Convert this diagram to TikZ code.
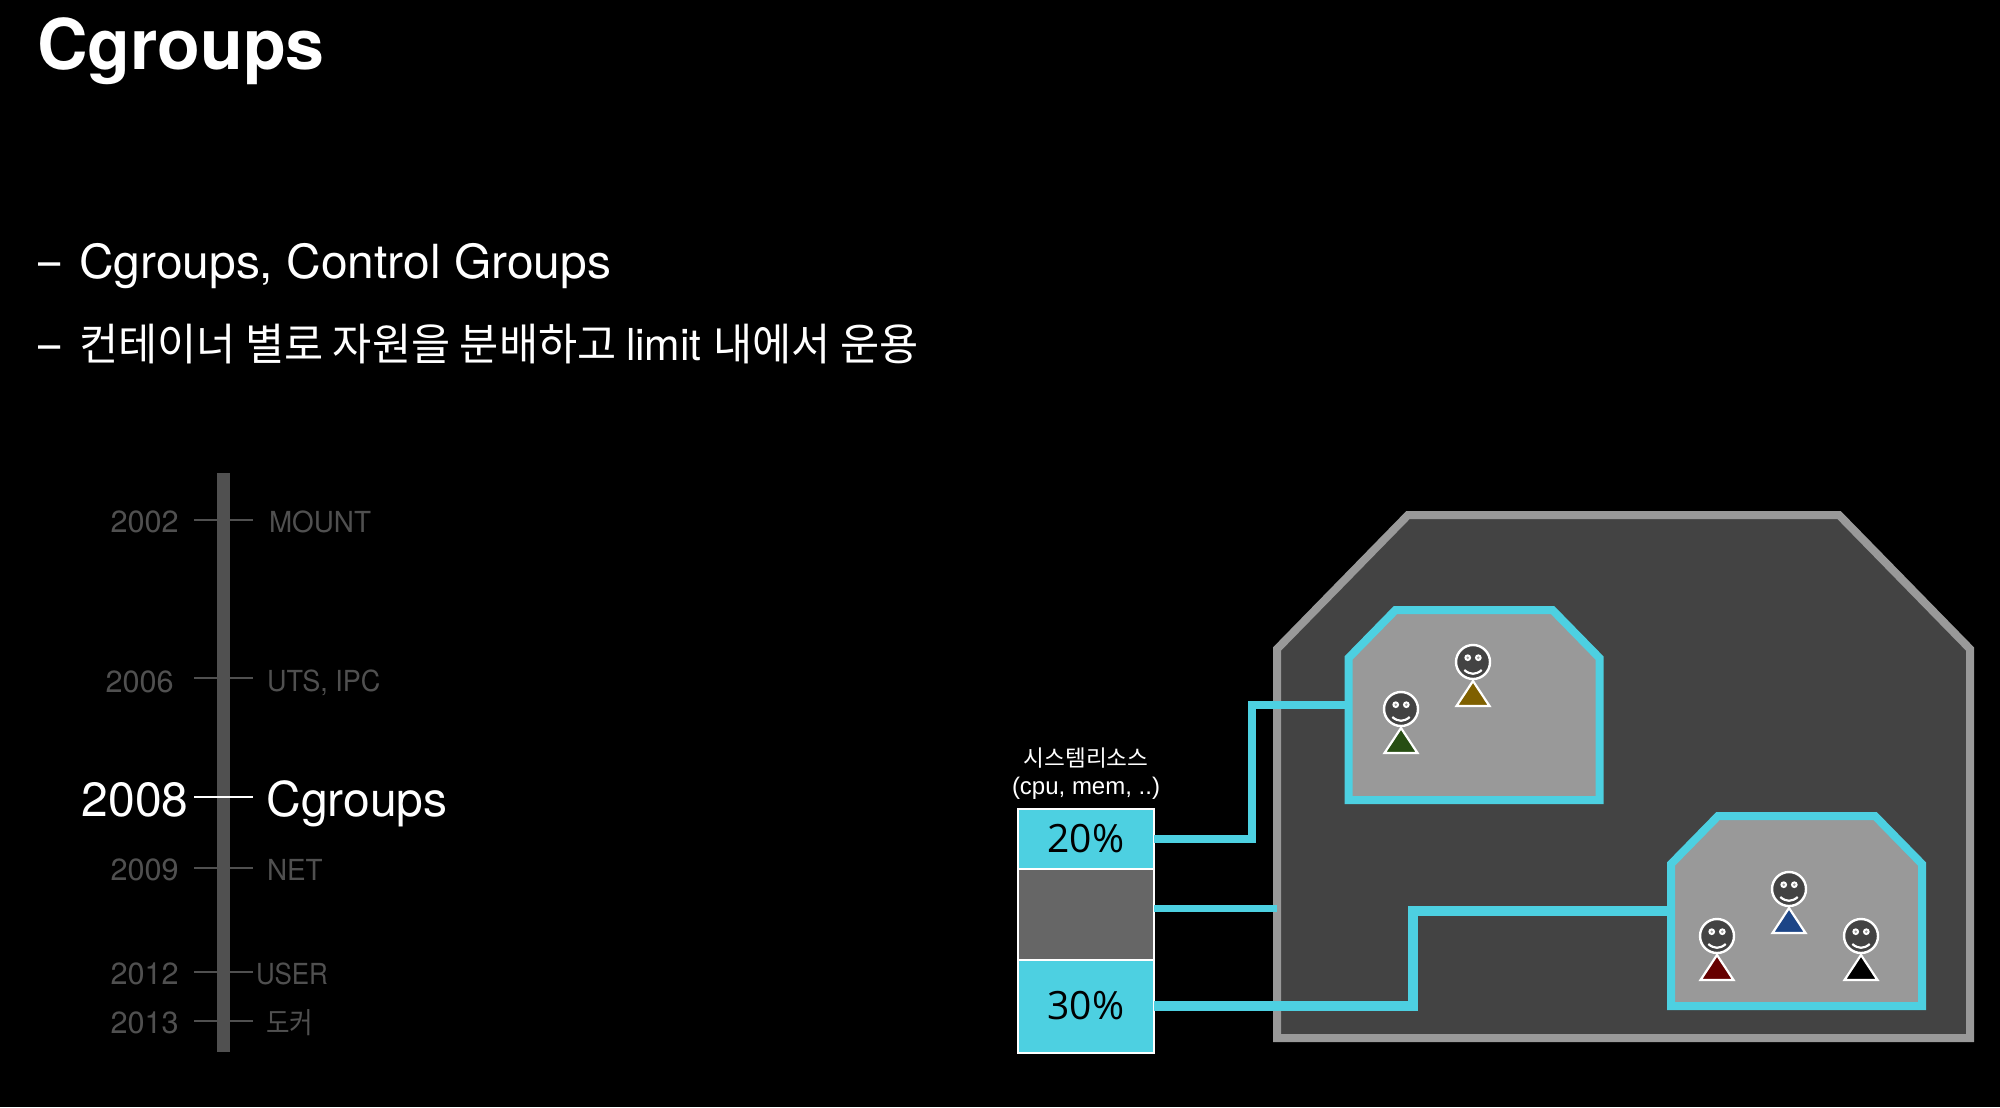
\documentclass[tikz,border=0pt]{standalone}
\usepackage{fontspec}
\setmainfont{TeX Gyre Heros}
\newfontfamily\cjk{Noto Sans CJK KR}
\newfontfamily\bodysans{Open Sans}
\newfontfamily\labelsans{Liberation Sans}
\usetikzlibrary{calc}
\definecolor{linkcyan}{HTML}{4DD0E1}
\definecolor{hostgray}{HTML}{434343}
\definecolor{midgray}{HTML}{999999}
\definecolor{freegray}{HTML}{666666}
\definecolor{fadegray}{HTML}{505050}
\definecolor{shirtolive}{HTML}{7F6000}
\definecolor{shirtgreen}{HTML}{274E13}
\definecolor{shirtblue}{HTML}{1C4587}
\definecolor{shirtred}{HTML}{660000}
\tikzset{
 txt/.style={anchor=base west,inner sep=0,outer sep=0,text=white},
 yearold/.style={anchor=base east,inner sep=0,text=fadegray,font=\fontsize{15.3}{15}\selectfont},
 nameold/.style={txt,text=fadegray,xscale=.96,font=\fontsize{14.5}{15}\selectfont},
 bigtxt/.style={inner sep=0,text=white,font=\fontsize{24}{24}\selectfont},
 bullet/.style={txt,font=\fontsize{23.5}{24}\selectfont},
 tick/.style={draw=fadegray,line width=1pt},
 hostbox/.style={inner sep=0,outer sep=0,minimum width=346.5pt,minimum height=261.5pt},
 podbox/.style={inner sep=0,outer sep=0,minimum width=125.5pt,minimum height=95pt},
 hostline/.style={draw=midgray,fill=hostgray,line width=4pt,line join=miter},
 podline/.style={draw=linkcyan,fill=midgray,line width=4pt,line join=miter},
 barcell/.style={draw=white,line width=1pt,minimum width=68pt,outer sep=0,inner sep=0,font=\bodysans\fontsize{19.5}{20}\selectfont,text=black},
 link/.style={draw=linkcyan,line width=3.9pt},
}
\newcommand{\houseline}[4]{
 \draw[#1] (#2.south west) -- ($(#2.north west)+(0,#4)$) -- ($(#2.north west)+(#3,0)$) -- ($(#2.north east)+(-#3,0)$) -- ($(#2.north east)+(0,#4)$) -- (#2.south east) -- cycle;
}
\newcommand{\person}[3]{
 \draw[white,line width=1.2pt,fill=hostgray] (#1,#2) circle[radius=8.5pt];
 \fill[white] (#1-5.3,#2-4.3) circle[radius=1.7pt] (#1+5.3,#2-4.3) circle[radius=1.7pt];
 \fill[midgray] (#1-5.3,#2-4.3) circle[radius=.7pt] (#1+5.3,#2-4.3) circle[radius=.7pt];
 \draw[white,line width=1.1pt] (#1-8.7,#2+8) .. controls (#1-3,#2+13) and (#1+3,#2+13) .. (#1+8.7,#2+8);
 \draw[white,line width=1.1pt,fill=#3,line join=miter] (#1,#2+19) -- (#1+16.5,#2+44) -- (#1-16.5,#2+44) -- cycle;
}
\begin{document}
\begin{tikzpicture}[x=.5pt,y=-.5pt]
 \fill[black] (0,0) rectangle (2000,1107);
 \useasboundingbox (0,0) rectangle (2000,1107);
 \node[txt,font=\fontsize{35}{35}\selectfont\bfseries] (title) at (37,70) {Cgroups};
 \node[bullet,xscale=.85] (dasha) at (38,278) {\textendash};
 \node[bullet,xscale=1.02] (itema) at (79,278.5) {Cgroups, Control Groups};
 \node[bullet,xscale=.85] (dashb) at (38,360) {\textendash};
 \node[txt,font=\fontsize{22}{24}\selectfont,xscale=.967] (itemb) at (79,360) {\cjk 컨테이너 별로 자원을 분배하고 \normalfont limit \cjk 내에서 운용};
 \fill[fadegray] (217,473) rectangle (230,1052);
 \foreach \ty in {520,678,867.5,972,1021}
  \draw[tick] (194,\ty) -- (253,\ty);
 \draw[white,line width=1pt] (194,797) -- (253,797);
 \node[yearold] (ya) at (179,532) {2002};
 \node[yearold] (yb) at (174,692) {2006};
 \node[bigtxt,anchor=base east] (yc) at (189,816) {2008};
 \node[yearold] (yd) at (179,880) {2009};
 \node[yearold] (ye) at (179,984) {2012};
 \node[yearold] (yf) at (179,1033) {2013};
 \node[nameold] (na) at (269,532) {MOUNT};
 \node[nameold,xscale=.97] (nb) at (267,691) {UTS, IPC};
 \node[bigtxt,anchor=base west] (nc) at (266,816) {Cgroups};
 \node[nameold] (nd) at (267,880) {NET};
 \node[nameold,xscale=.93] (ne) at (256,984) {USER};
 \node[nameold,xscale=.92,font=\cjk\fontsize{14.5}{15}\selectfont] (nf) at (266,1033) {도커};
 \node[hostbox] (host) at (1623.5,776.5) {};
 \houseline{hostline}{host}{131}{134}
 \node[barcell,fill=linkcyan,minimum height=30.25pt] (bara) at (1086,838.75) {20\%};
 \node[barcell,fill=freegray,minimum height=45.25pt] (barfree) at (1086,914.25) {};
 \node[barcell,fill=linkcyan,minimum height=46.5pt] (barb) at (1086,1006) {30\%};
 \node[podbox] (poda) at (1474,705) {};
 \node[podbox] (podb) at (1796.5,911) {};
 \coordinate (benda) at (1252,705);
 \coordinate (bendb) at (1413,911);
 \draw[link] (bara.east) -| (benda) -- (poda.west);
 \draw[link,line width=3.4pt] ([yshift=3pt]barfree.east) -- ([yshift=3pt]barfree.east -| host.west);
 \draw[link,line width=5.4pt] (barb.east) -| (bendb) -- (podb.west);
 \houseline{podline}{poda}{47}{48}
 \houseline{podline}{podb}{47}{48}
 \node[txt,anchor=base,font=\cjk\fontsize{11.3}{12}\selectfont] (restitle) at (1086,766) {시스템리소스};
 \node[txt,anchor=base,font=\labelsans\fontsize{12}{12}\selectfont] (resnote) at (1086,794) {(cpu, mem, ..)};
 \person{1473}{662}{shirtolive}
 \person{1401}{709}{shirtgreen}
 \person{1789}{889}{shirtblue}
 \person{1717}{936}{shirtred}
 \person{1861}{936}{black}
\end{tikzpicture}
\end{document}
